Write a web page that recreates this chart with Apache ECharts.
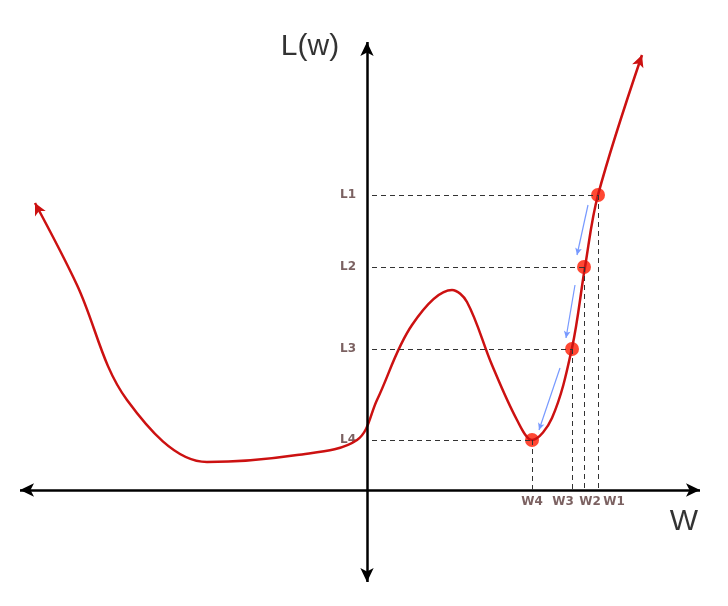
<!DOCTYPE html>
<html>
<head>
<meta charset="utf-8">
<title>L(w)</title>
<script src="https://cdn.jsdelivr.net/npm/echarts@6/dist/echarts.min.js"></script>
</head>
<body style="margin:0">
<div id="main" style="width:728px;height:606px;"></div>
<script type="text/javascript">
// data in pixel-like units, origin at the axes crossing
var curveX = [-332, -290, -240, -160, -70, -10, 10, 45, 85, 100, 125, 150, 165, 185, 205, 218, 231, 275];
var curveY = [287, 205, 90, 28, 35, 50, 90, 165, 200, 188, 125, 70, 50, 72, 142, 223, 295, 435];
var stepW = [231, 217, 205, 165];
var stepL = [295, 223, 141, 50];
var lLabels = ['L1', 'L2', 'L3', 'L4'];
var wLabels = ['W1', 'W2', 'W3', 'W4'];
var wLabelX = [247, 223, 196, 165];
var blueFrom = [[221, 285], [208, 205], [193, 122]];
var blueTo = [[210, 235], [199, 152], [172, 60]];

var curve = curveX.map(function (x, i) { return [x, curveY[i]]; });
var n = curve.length;

var dashes = [];
for (var i = 0; i < 4; i++) {
    dashes.push([{coord: [5, stepL[i]]}, {coord: [stepW[i], stepL[i]]}]);
    dashes.push([{coord: [stepW[i], stepL[i]]}, {coord: [stepW[i], 0]}]);
}

var chart = echarts.init(document.getElementById('main'));
chart.setOption({
    animation: false,
    grid: {left: 0, right: 0, top: 0, bottom: 0},
    xAxis: {type: 'value', min: -367, max: 361, show: false},
    yAxis: {type: 'value', min: -116, max: 490, show: false},
    series: [
        {
            type: 'line', data: [], silent: true,
            markLine: {
                silent: true, symbol: ['arrow', 'arrow'], symbolSize: [10, 14],
                label: {show: false},
                lineStyle: {color: '#000', width: 2.5, type: 'solid'},
                data: [
                    [{coord: [-347, 0]}, {coord: [333, 0]}],
                    [{coord: [0, -92]}, {coord: [0, 448]}]
                ]
            }
        },
        {
            type: 'line', data: [], silent: true,
            markLine: {
                silent: true, symbol: ['none', 'none'], label: {show: false},
                lineStyle: {color: '#333', width: 1, type: [5, 4]},
                data: dashes
            }
        },
        {
            type: 'line', smooth: 0.35, data: curve, showSymbol: false,
            lineStyle: {color: '#cc1111', width: 2.5},
            markLine: {
                silent: true, symbol: ['none', 'arrow'], symbolSize: [9, 12], label: {show: false},
                lineStyle: {color: '#cc1111', width: 0.1, type: 'solid'},
                data: [
                    [{coord: [-328, 279]}, {coord: curve[0]}],
                    [{coord: [272, 427]}, {coord: curve[n - 1]}]
                ]
            }
        },
        {
            type: 'line', data: [], silent: true,
            markLine: {
                silent: true, symbol: ['none', 'arrow'], symbolSize: [5, 7], label: {show: false},
                lineStyle: {color: '#7799ff', width: 1.2, type: 'solid'},
                data: blueFrom.map(function (p, i) { return [{coord: p}, {coord: blueTo[i]}]; })
            }
        },
        {
            type: 'scatter', symbolSize: 14, itemStyle: {color: '#ff1a00'},
            data: stepW.map(function (w, i) { return [w, stepL[i]]; })
        },
        {
            type: 'scatter', symbolSize: 0,
            label: {show: true, formatter: function (p) { return lLabels[p.dataIndex]; },
                color: '#5a3a3a', fontWeight: 'bold', fontSize: 12, fontFamily: 'DejaVu Sans'},
            data: stepL.map(function (l) { return [-19, l]; })
        },
        {
            type: 'scatter', symbolSize: 0,
            label: {show: true, formatter: function (p) { return wLabels[p.dataIndex]; },
                color: '#5a3a3a', fontWeight: 'bold', fontSize: 12, fontFamily: 'DejaVu Sans'},
            data: wLabelX.map(function (x) { return [x, -12]; })
        },
        {
            type: 'scatter', symbolSize: 0,
            label: {show: true, formatter: function (p) { return ['L(w)', 'W'][p.dataIndex]; },
                color: '#000', fontSize: 30, fontFamily: 'Liberation Sans'},
            data: [[-57, 443], [317, -32]]
        }
    ]
});
</script>
</body>
</html>
